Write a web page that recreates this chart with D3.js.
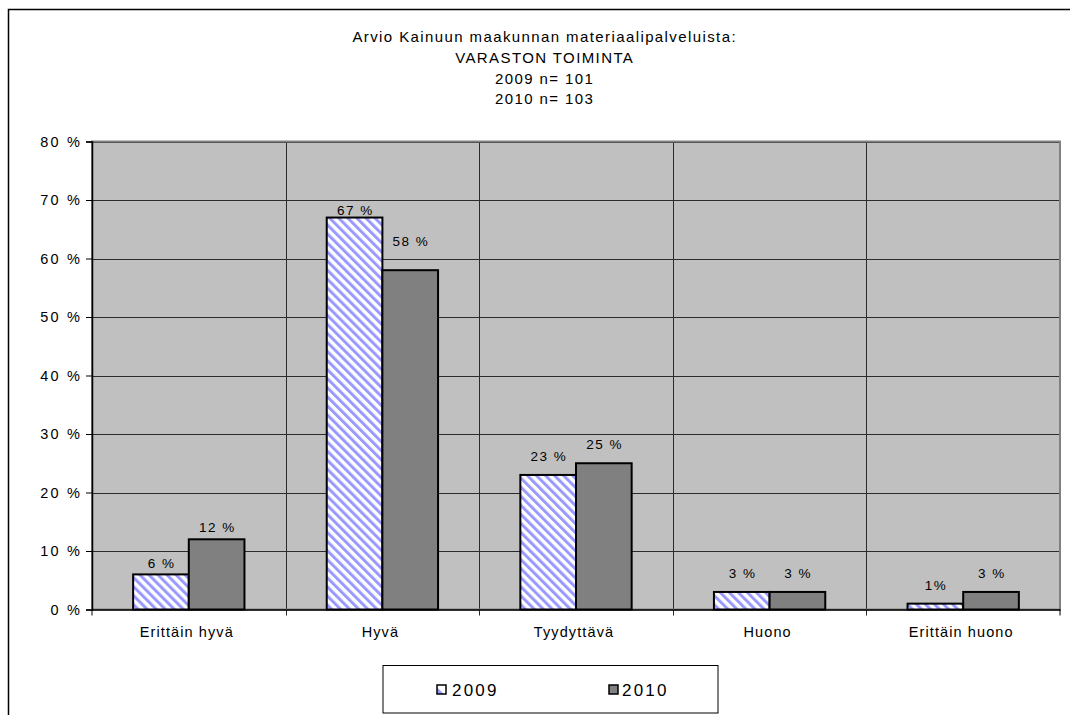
<!DOCTYPE html>
<html>
<head>
<meta charset="utf-8">
<script src="https://cdn.jsdelivr.net/npm/d3@7"></script>
<style>
  html, body { margin: 0; padding: 0; background: #fff; }
  svg { display: block; }
  text { font-family: "Liberation Sans", Arial, sans-serif; fill: #000; }
</style>
</head>
<body>
<svg id="chart" width="1070" height="715"></svg>
<script>
// Survey answers, share of respondents (%)
const categories = ["Erittäin hyvä", "Hyvä", "Tyydyttävä", "Huono", "Erittäin huono"];
const seriesNames = ["2009", "2010"];
const values2009 = [6, 67, 23, 3, 1];
const values2010 = [12, 58, 25, 3, 3];
const yTicks = [0, 10, 20, 30, 40, 50, 60, 70, 80];
const titleLines = [
  "Arvio Kainuun maakunnan materiaalipalveluista:",
  "VARASTON TOIMINTA",
  "2009 n= 101",
  "2010 n= 103"
];

// Layout
const plot = { left: 92, right: 1060, top: 141.5, bottom: 609.5 };
// extra lift (px) for value labels that sit higher above their bars
const labelLift = { "2009": [0, -3, 8, 8, 8], "2010": [1, 18, 8, 8, 8] };

const svg = d3.select("#chart");

// outer chart frame
svg.append("path")
  .attr("d", "M8.5,720 V9.5 H1075")
  .attr("fill", "none").attr("stroke", "#000").attr("stroke-width", 1.5);

// title
const title = svg.append("g");
const titleSpacing = 1.4;
titleLines.forEach((t, i) => {
  title.append("text")
    .attr("x", 544).attr("y", 42 + i * 20.8)
    .attr("dx", titleSpacing / 2)
    .attr("text-anchor", "middle")
    .attr("font-size", 15)
    .attr("letter-spacing", titleSpacing)
    .text(t);
});

const x = d3.scaleBand().domain(categories).range([plot.left, plot.right]).padding(0);
const groupWidth = x.bandwidth() * 0.575;
const xs = d3.scaleBand().domain(seriesNames).range([0, groupWidth]).padding(0);
const y = d3.scaleLinear().domain([0, 80]).range([plot.bottom, plot.top]);

// stripe pattern for the 2009 series
const defs = svg.append("defs");
const pat = defs.append("pattern")
  .attr("id", "stripes")
  .attr("patternUnits", "userSpaceOnUse")
  .attr("width", 6.4).attr("height", 6.4)
  .attr("patternTransform", "rotate(-45)");
pat.append("rect").attr("width", 6.4).attr("height", 6.4).attr("fill", "#fff");
pat.append("rect").attr("width", 3).attr("height", 6.4).attr("fill", "#9999ff");

const legPat = defs.append("pattern")
  .attr("id", "stripesSmall")
  .attr("patternUnits", "userSpaceOnUse")
  .attr("width", 14).attr("height", 14)
  .attr("patternTransform", "rotate(-45)");
legPat.append("rect").attr("width", 14).attr("height", 14).attr("fill", "#fff");
legPat.append("rect").attr("width", 5).attr("height", 14).attr("fill", "#9999ff");

// plot background
svg.append("rect")
  .attr("x", plot.left).attr("y", plot.top)
  .attr("width", plot.right - plot.left).attr("height", plot.bottom - plot.top)
  .attr("fill", "#c0c0c0");

// horizontal gridlines
svg.append("g").selectAll("line").data(yTicks.filter(d => d > 0)).join("line")
  .attr("x1", plot.left).attr("x2", plot.right)
  .attr("y1", d => Math.round(y(d)) + 0.5).attr("y2", d => Math.round(y(d)) + 0.5)
  .attr("stroke", "#2b2b2b").attr("stroke-width", 1);

// vertical gridlines between categories
const bounds = categories.slice(1).map(c => x(c));
svg.append("g").selectAll("line").data(bounds).join("line")
  .attr("x1", d => Math.round(d) + 0.5).attr("x2", d => Math.round(d) + 0.5)
  .attr("y1", plot.top).attr("y2", plot.bottom + 6)
  .attr("stroke", "#2b2b2b").attr("stroke-width", 1);

// plot area border
svg.append("rect")
  .attr("x", plot.left).attr("y", plot.top)
  .attr("width", plot.right - plot.left).attr("height", plot.bottom - plot.top)
  .attr("fill", "none").attr("stroke", "#808080").attr("stroke-width", 2);

// y axis
const yAxis = d3.axisLeft(y).tickValues(yTicks).tickSize(6).tickPadding(6)
  .tickFormat(d => d + " %");
const gy = svg.append("g").attr("transform", `translate(${plot.left},0)`).call(yAxis);
gy.select(".domain").attr("stroke", "#000").attr("stroke-width", 1.5);
gy.selectAll(".tick line").attr("stroke", "#000");
gy.selectAll(".tick text").attr("font-size", 14.5)
  .attr("font-family", "Liberation Sans, Arial, sans-serif").attr("fill", "#000")
  .attr("letter-spacing", 2.2).attr("dx", 2.2);

// x axis
const xAxis = d3.axisBottom(x).tickSize(0).tickPadding(17);
const gx = svg.append("g").attr("transform", `translate(0,${plot.bottom})`).call(xAxis);
gx.select(".domain").attr("stroke", "#000").attr("stroke-width", 1.5);
gx.selectAll(".tick text").attr("font-size", 14.5)
  .attr("font-family", "Liberation Sans, Arial, sans-serif").attr("fill", "#000")
  .attr("letter-spacing", 1.1).attr("dx", -2);
// end ticks of x axis
svg.append("g").selectAll("line").data([plot.left, plot.right]).join("line")
  .attr("x1", d => d).attr("x2", d => d)
  .attr("y1", plot.bottom).attr("y2", plot.bottom + 6)
  .attr("stroke", "#000");

// bars
const seriesData = seriesNames.map((s, si) => ({
  name: s,
  fill: si === 0 ? "url(#stripes)" : "#808080",
  values: si === 0 ? values2009 : values2010
}));

const groups = svg.append("g").selectAll("g").data(categories).join("g")
  .attr("transform", c => `translate(${x(c) + (x.bandwidth() - groupWidth) / 2},0)`);

seriesData.forEach(s => {
  groups.append("rect")
    .attr("x", xs(s.name))
    .attr("y", (c, i) => y(s.values[i]))
    .attr("width", xs.bandwidth())
    .attr("height", (c, i) => y(0) - y(s.values[i]))
    .attr("fill", s.fill)
    .attr("stroke", "#000").attr("stroke-width", 2);
});

const labelSpacing = 1.5;
seriesData.forEach(s => {
  groups.append("text")
    .attr("x", xs(s.name) + xs.bandwidth() / 2)
    .attr("dx", labelSpacing / 2)
    .attr("y", (c, i) => y(s.values[i]) - 6 - labelLift[s.name][i])
    .attr("text-anchor", "middle")
    .attr("font-size", 13.5)
    .attr("letter-spacing", labelSpacing)
    .text((c, i) => s.values[i] + (s.values[i] === 1 ? "%" : " %"));
});

// legend
const leg = svg.append("g");
leg.append("rect")
  .attr("x", 383).attr("y", 665.5).attr("width", 335).attr("height", 47.5)
  .attr("fill", "#fff").attr("stroke", "#000").attr("stroke-width", 1);
const legendItems = [
  { name: seriesNames[0], fill: "url(#stripesSmall)", x: 437, tx: 452 },
  { name: seriesNames[1], fill: "#808080", x: 609, tx: 622 }
];
legendItems.forEach(it => {
  leg.append("rect")
    .attr("x", it.x).attr("y", 685).attr("width", 9).attr("height", 9)
    .attr("fill", it.fill).attr("stroke", "#000").attr("stroke-width", 1.5);
  leg.append("text")
    .attr("x", it.tx).attr("y", 695.5)
    .attr("font-size", 17)
    .attr("letter-spacing", 2.2)
    .text(it.name);
});
</script>
</body>
</html>
